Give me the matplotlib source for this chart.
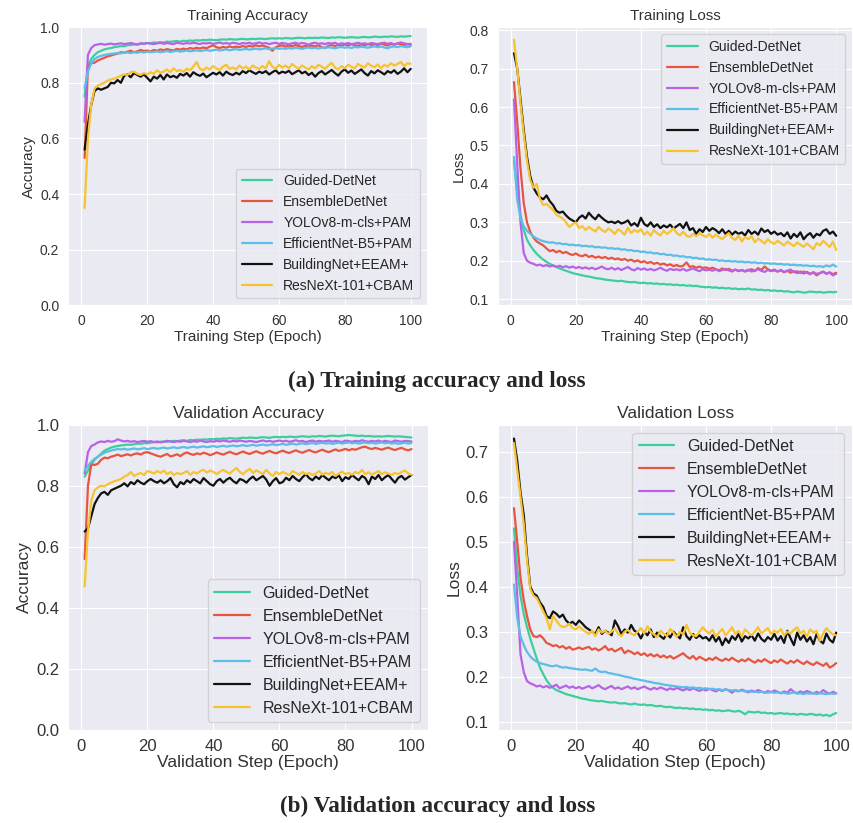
import matplotlib
matplotlib.use("Agg")
import matplotlib.pyplot as plt
import seaborn as sns
import numpy as np

sns.set_style("darkgrid")
plt.rcParams['font.family'] = ['Liberation Sans', 'DejaVu Sans']

epochs = list(range(1, 101))
labels = ["Guided-DetNet", "EnsembleDetNet", "YOLOv8-m-cls+PAM",
          "EfficientNet-B5+PAM", "BuildingNet+EEAM+", "ResNeXt-101+CBAM"]
colors = ["#3ccf9c", "#e8553f", "#b862e6", "#5cbde6", "#111111", "#f7c331"]

# ---------------- Training accuracy ----------------
ta_guided = [0.750, 0.860, 0.885, 0.900, 0.910, 0.915, 0.920, 0.923, 0.925, 0.928,
             0.930, 0.932, 0.931, 0.935, 0.936, 0.938, 0.937, 0.940, 0.941, 0.943,
             0.942, 0.945, 0.944, 0.946, 0.945, 0.948, 0.947, 0.949, 0.950, 0.948,
             0.951, 0.950, 0.952, 0.951, 0.953, 0.952, 0.954, 0.953, 0.955, 0.954,
             0.953, 0.955, 0.956, 0.955, 0.957, 0.956, 0.955, 0.957, 0.958, 0.956,
             0.957, 0.958, 0.957, 0.959, 0.958, 0.957, 0.959, 0.960, 0.959, 0.960,
             0.959, 0.961, 0.960, 0.959, 0.961, 0.962, 0.961, 0.960, 0.962, 0.961,
             0.962, 0.961, 0.963, 0.962, 0.961, 0.963, 0.962, 0.964, 0.963, 0.962,
             0.963, 0.964, 0.963, 0.962, 0.964, 0.965, 0.963, 0.964, 0.966, 0.965,
             0.964, 0.966, 0.965, 0.967, 0.966, 0.965, 0.967, 0.966, 0.967, 0.968]
ta_ensemble = [0.530, 0.860, 0.870, 0.872, 0.880, 0.885, 0.890, 0.895, 0.898, 0.902,
               0.905, 0.910, 0.908, 0.912, 0.915, 0.910, 0.913, 0.918, 0.914, 0.916,
               0.912, 0.918, 0.915, 0.920, 0.917, 0.921, 0.918, 0.916, 0.922, 0.919,
               0.923, 0.920, 0.925, 0.922, 0.926, 0.923, 0.927, 0.924, 0.930, 0.935,
               0.928, 0.925, 0.929, 0.926, 0.931, 0.927, 0.930, 0.928, 0.932, 0.929,
               0.933, 0.930, 0.935, 0.931, 0.934, 0.930, 0.926, 0.915, 0.928, 0.932,
               0.935, 0.930, 0.934, 0.931, 0.936, 0.932, 0.929, 0.933, 0.930, 0.934,
               0.931, 0.935, 0.928, 0.925, 0.933, 0.936, 0.932, 0.937, 0.933, 0.938,
               0.934, 0.939, 0.935, 0.933, 0.938, 0.934, 0.940, 0.936, 0.939, 0.935,
               0.941, 0.937, 0.934, 0.940, 0.936, 0.942, 0.938, 0.935, 0.939, 0.936]
ta_yolo = [0.660, 0.900, 0.925, 0.935, 0.938, 0.940, 0.937, 0.939, 0.941, 0.938,
           0.940, 0.942, 0.939, 0.941, 0.943, 0.940, 0.938, 0.942, 0.940, 0.943,
           0.941, 0.939, 0.942, 0.944, 0.940, 0.943, 0.941, 0.939, 0.944, 0.942,
           0.940, 0.943, 0.941, 0.944, 0.942, 0.939, 0.943, 0.941, 0.944, 0.940,
           0.942, 0.945, 0.941, 0.943, 0.940, 0.944, 0.942, 0.939, 0.943, 0.941,
           0.944, 0.940, 0.942, 0.945, 0.941, 0.943, 0.939, 0.942, 0.944, 0.940,
           0.943, 0.941, 0.938, 0.942, 0.944, 0.940, 0.943, 0.941, 0.937, 0.942,
           0.944, 0.940, 0.942, 0.939, 0.943, 0.941, 0.944, 0.938, 0.942, 0.940,
           0.943, 0.939, 0.941, 0.944, 0.940, 0.942, 0.938, 0.943, 0.941, 0.939,
           0.942, 0.944, 0.940, 0.943, 0.938, 0.941, 0.945, 0.942, 0.939, 0.940]
ta_efficient = [0.780, 0.840, 0.870, 0.885, 0.893, 0.897, 0.900, 0.902, 0.904, 0.905,
                0.907, 0.906, 0.908, 0.909, 0.907, 0.910, 0.908, 0.911, 0.909, 0.912,
                0.910, 0.911, 0.913, 0.910, 0.912, 0.914, 0.911, 0.913, 0.915, 0.912,
                0.914, 0.916, 0.913, 0.915, 0.917, 0.914, 0.916, 0.918, 0.915, 0.917,
                0.919, 0.916, 0.918, 0.920, 0.917, 0.919, 0.921, 0.918, 0.920, 0.922,
                0.919, 0.921, 0.923, 0.920, 0.922, 0.924, 0.921, 0.923, 0.925, 0.922,
                0.924, 0.922, 0.925, 0.923, 0.926, 0.924, 0.922, 0.925, 0.927, 0.924,
                0.926, 0.923, 0.927, 0.925, 0.928, 0.926, 0.924, 0.927, 0.929, 0.926,
                0.928, 0.925, 0.929, 0.927, 0.930, 0.928, 0.926, 0.929, 0.931, 0.928,
                0.930, 0.927, 0.924, 0.929, 0.931, 0.928, 0.932, 0.930, 0.928, 0.931]
ta_building = [0.560, 0.650, 0.720, 0.770, 0.780, 0.775, 0.780, 0.785, 0.800, 0.798,
               0.810, 0.800, 0.825, 0.830, 0.820, 0.835, 0.828, 0.822, 0.830, 0.818,
               0.805, 0.822, 0.815, 0.828, 0.812, 0.830, 0.820, 0.825, 0.818, 0.832,
               0.826, 0.835, 0.822, 0.838, 0.830, 0.825, 0.833, 0.820, 0.828, 0.836,
               0.830, 0.838, 0.826, 0.840, 0.832, 0.828, 0.836, 0.830, 0.842, 0.835,
               0.845, 0.838, 0.832, 0.840, 0.835, 0.842, 0.830, 0.838, 0.845, 0.833,
               0.840, 0.836, 0.843, 0.831, 0.838, 0.845, 0.834, 0.840, 0.828, 0.836,
               0.822, 0.835, 0.842, 0.830, 0.838, 0.846, 0.835, 0.826, 0.840, 0.848,
               0.836, 0.844, 0.832, 0.840, 0.848, 0.835, 0.826, 0.842, 0.834, 0.845,
               0.838, 0.830, 0.842, 0.836, 0.845, 0.832, 0.840, 0.852, 0.838, 0.850]
ta_resnext = [0.350, 0.600, 0.720, 0.780, 0.790, 0.795, 0.800, 0.808, 0.812, 0.815,
              0.820, 0.825, 0.830, 0.828, 0.838, 0.840, 0.832, 0.828, 0.835, 0.830,
              0.838, 0.832, 0.845, 0.836, 0.840, 0.848, 0.838, 0.852, 0.842, 0.846,
              0.840, 0.850, 0.845, 0.858, 0.875, 0.850, 0.845, 0.855, 0.848, 0.860,
              0.852, 0.846, 0.858, 0.865, 0.850, 0.855, 0.848, 0.862, 0.852, 0.858,
              0.848, 0.862, 0.855, 0.850, 0.860, 0.852, 0.878, 0.858, 0.850, 0.865,
              0.855, 0.862, 0.852, 0.868, 0.858, 0.850, 0.862, 0.855, 0.848, 0.860,
              0.852, 0.865, 0.858, 0.850, 0.862, 0.872, 0.855, 0.848, 0.860, 0.852,
              0.865, 0.858, 0.852, 0.868, 0.860, 0.855, 0.870, 0.862, 0.856, 0.866,
              0.852, 0.865, 0.858, 0.870, 0.862, 0.868, 0.875, 0.860, 0.870, 0.868]

# ---------------- Training loss ----------------
tl_guided = [0.460, 0.380, 0.320, 0.280, 0.255, 0.240, 0.228, 0.218, 0.210, 0.203,
             0.197, 0.192, 0.188, 0.184, 0.180, 0.177, 0.174, 0.171, 0.168, 0.166,
             0.164, 0.162, 0.160, 0.159, 0.157, 0.155, 0.154, 0.153, 0.151, 0.150,
             0.149, 0.148, 0.147, 0.148, 0.146, 0.145, 0.144, 0.145, 0.143, 0.142,
             0.143, 0.141, 0.142, 0.140, 0.141, 0.139, 0.140, 0.138, 0.139, 0.137,
             0.138, 0.136, 0.137, 0.135, 0.136, 0.134, 0.135, 0.133, 0.132, 0.131,
             0.132, 0.130, 0.131, 0.129, 0.130, 0.128, 0.129, 0.127, 0.128, 0.126,
             0.127, 0.126, 0.128, 0.125, 0.126, 0.124, 0.125, 0.123, 0.124, 0.122,
             0.123, 0.121, 0.122, 0.120, 0.121, 0.119, 0.118, 0.120, 0.119, 0.117,
             0.118, 0.120, 0.119, 0.118, 0.119, 0.117, 0.118, 0.119, 0.118, 0.119]
tl_ensemble = [0.665, 0.560, 0.440, 0.350, 0.300, 0.275, 0.260, 0.250, 0.245, 0.240,
               0.232, 0.225, 0.228, 0.222, 0.226, 0.220, 0.223, 0.218, 0.215, 0.219,
               0.214, 0.212, 0.216, 0.210, 0.213, 0.208, 0.211, 0.207, 0.210, 0.205,
               0.208, 0.204, 0.206, 0.202, 0.205, 0.200, 0.203, 0.198, 0.201, 0.196,
               0.199, 0.194, 0.197, 0.192, 0.195, 0.190, 0.193, 0.188, 0.191, 0.186,
               0.189, 0.185, 0.187, 0.196, 0.184, 0.186, 0.182, 0.185, 0.181, 0.183,
               0.179, 0.182, 0.178, 0.175, 0.180, 0.176, 0.179, 0.174, 0.177, 0.173,
               0.176, 0.172, 0.175, 0.178, 0.173, 0.181, 0.176, 0.185, 0.178, 0.174,
               0.177, 0.172, 0.175, 0.170, 0.174, 0.169, 0.173, 0.168, 0.172, 0.167,
               0.171, 0.166, 0.170, 0.162, 0.168, 0.172, 0.166, 0.170, 0.165, 0.169]
tl_yolo = [0.620, 0.450, 0.300, 0.220, 0.200, 0.195, 0.192, 0.188, 0.190, 0.186,
           0.189, 0.185, 0.188, 0.184, 0.187, 0.183, 0.186, 0.182, 0.185, 0.181,
           0.184, 0.180, 0.183, 0.179, 0.182, 0.178, 0.181, 0.185, 0.180, 0.178,
           0.182, 0.177, 0.181, 0.176, 0.180, 0.184, 0.178, 0.175, 0.181, 0.177,
           0.180, 0.176, 0.179, 0.175, 0.178, 0.182, 0.177, 0.174, 0.179, 0.176,
           0.178, 0.175, 0.179, 0.174, 0.177, 0.180, 0.176, 0.173, 0.178, 0.175,
           0.177, 0.174, 0.178, 0.173, 0.176, 0.179, 0.175, 0.172, 0.177, 0.174,
           0.176, 0.173, 0.177, 0.172, 0.175, 0.178, 0.174, 0.171, 0.176, 0.173,
           0.175, 0.172, 0.176, 0.171, 0.174, 0.177, 0.170, 0.173, 0.168, 0.172,
           0.169, 0.165, 0.170, 0.166, 0.168, 0.171, 0.167, 0.169, 0.162, 0.166]
tl_efficient = [0.470, 0.360, 0.310, 0.290, 0.278, 0.270, 0.263, 0.258, 0.254, 0.251,
                0.249, 0.247, 0.248, 0.245, 0.246, 0.243, 0.244, 0.241, 0.242, 0.240,
                0.241, 0.238, 0.239, 0.237, 0.238, 0.235, 0.236, 0.234, 0.235, 0.232,
                0.233, 0.231, 0.232, 0.229, 0.230, 0.227, 0.228, 0.225, 0.226, 0.223,
                0.224, 0.221, 0.222, 0.219, 0.220, 0.217, 0.218, 0.215, 0.216, 0.213,
                0.214, 0.211, 0.212, 0.209, 0.210, 0.207, 0.208, 0.205, 0.206, 0.203,
                0.204, 0.202, 0.203, 0.200, 0.201, 0.199, 0.200, 0.198, 0.199, 0.197,
                0.198, 0.196, 0.197, 0.195, 0.196, 0.194, 0.195, 0.193, 0.194, 0.192,
                0.193, 0.191, 0.192, 0.190, 0.191, 0.189, 0.190, 0.188, 0.189, 0.187,
                0.188, 0.186, 0.187, 0.185, 0.186, 0.184, 0.188, 0.185, 0.190, 0.185]
tl_building = [0.740, 0.700, 0.620, 0.540, 0.470, 0.420, 0.390, 0.375, 0.365, 0.360,
               0.370, 0.355, 0.345, 0.330, 0.325, 0.328, 0.318, 0.310, 0.305, 0.300,
               0.312, 0.318, 0.310, 0.325, 0.315, 0.308, 0.320, 0.312, 0.305, 0.300,
               0.302, 0.298, 0.303, 0.297, 0.300, 0.305, 0.292, 0.298, 0.290, 0.312,
               0.296, 0.290, 0.300, 0.288, 0.295, 0.285, 0.292, 0.287, 0.294, 0.284,
               0.290, 0.296, 0.285, 0.300, 0.280, 0.285, 0.270, 0.282, 0.275, 0.288,
               0.278, 0.285, 0.280, 0.272, 0.282, 0.270, 0.278, 0.268, 0.276, 0.270,
               0.274, 0.266, 0.280, 0.270, 0.276, 0.268, 0.284, 0.275, 0.280, 0.270,
               0.276, 0.268, 0.272, 0.264, 0.274, 0.258, 0.270, 0.262, 0.274, 0.256,
               0.266, 0.272, 0.260, 0.270, 0.266, 0.278, 0.282, 0.270, 0.276, 0.265]
tl_resnext = [0.775, 0.700, 0.610, 0.530, 0.460, 0.410, 0.390, 0.400, 0.360, 0.345,
              0.348, 0.340, 0.332, 0.320, 0.315, 0.310, 0.300, 0.288, 0.295, 0.300,
              0.285, 0.290, 0.280, 0.288, 0.282, 0.276, 0.288, 0.280, 0.275, 0.284,
              0.278, 0.270, 0.282, 0.276, 0.268, 0.286, 0.272, 0.280, 0.275, 0.282,
              0.268, 0.276, 0.265, 0.280, 0.272, 0.266, 0.278, 0.270, 0.276, 0.285,
              0.272, 0.266, 0.276, 0.265, 0.262, 0.270, 0.264, 0.272, 0.266, 0.262,
              0.270, 0.260, 0.268, 0.262, 0.256, 0.265, 0.272, 0.260, 0.254, 0.266,
              0.250, 0.262, 0.256, 0.264, 0.248, 0.258, 0.252, 0.245, 0.256, 0.248,
              0.244, 0.252, 0.246, 0.240, 0.250, 0.244, 0.238, 0.248, 0.242, 0.236,
              0.245, 0.238, 0.230, 0.246, 0.240, 0.252, 0.244, 0.236, 0.250, 0.228]

# ---------------- Validation accuracy ----------------
va_guided = [0.830, 0.850, 0.870, 0.885, 0.895, 0.905, 0.915, 0.920, 0.925, 0.928,
             0.930, 0.932, 0.933, 0.935, 0.934, 0.936, 0.938, 0.937, 0.940, 0.939,
             0.941, 0.943, 0.942, 0.944, 0.945, 0.944, 0.946, 0.947, 0.946, 0.948,
             0.949, 0.947, 0.950, 0.949, 0.951, 0.950, 0.952, 0.951, 0.953, 0.952,
             0.954, 0.953, 0.955, 0.954, 0.956, 0.955, 0.954, 0.956, 0.957, 0.956,
             0.958, 0.957, 0.956, 0.958, 0.959, 0.958, 0.957, 0.959, 0.960, 0.959,
             0.960, 0.959, 0.961, 0.960, 0.959, 0.961, 0.962, 0.961, 0.960, 0.962,
             0.961, 0.963, 0.962, 0.961, 0.963, 0.964, 0.963, 0.962, 0.964, 0.965,
             0.966, 0.965, 0.964, 0.963, 0.964, 0.962, 0.963, 0.962, 0.961, 0.962,
             0.961, 0.962, 0.963, 0.962, 0.961, 0.962, 0.961, 0.960, 0.959, 0.958]
va_ensemble = [0.560, 0.800, 0.870, 0.868, 0.872, 0.885, 0.892, 0.890, 0.895, 0.898,
               0.902, 0.897, 0.900, 0.903, 0.899, 0.904, 0.906, 0.902, 0.908, 0.910,
               0.906, 0.902, 0.898, 0.895, 0.900, 0.904, 0.896, 0.899, 0.903, 0.897,
               0.905, 0.909, 0.904, 0.901, 0.906, 0.903, 0.908, 0.905, 0.900, 0.904,
               0.909, 0.905, 0.902, 0.907, 0.911, 0.906, 0.903, 0.908, 0.912, 0.907,
               0.904, 0.909, 0.913, 0.908, 0.905, 0.910, 0.914, 0.909, 0.906, 0.911,
               0.915, 0.910, 0.907, 0.912, 0.916, 0.911, 0.908, 0.913, 0.917, 0.912,
               0.909, 0.914, 0.918, 0.913, 0.910, 0.915, 0.919, 0.914, 0.917, 0.921,
               0.916, 0.920, 0.918, 0.922, 0.926, 0.928, 0.923, 0.920, 0.924, 0.921,
               0.918, 0.922, 0.925, 0.920, 0.917, 0.921, 0.924, 0.919, 0.916, 0.920]
va_yolo = [0.840, 0.910, 0.930, 0.935, 0.942, 0.945, 0.943, 0.947, 0.944, 0.946,
           0.952, 0.948, 0.945, 0.947, 0.944, 0.946, 0.943, 0.945, 0.947, 0.944,
           0.946, 0.943, 0.945, 0.942, 0.944, 0.947, 0.945, 0.943, 0.946, 0.944,
           0.947, 0.945, 0.943, 0.946, 0.944, 0.948, 0.945, 0.943, 0.946, 0.944,
           0.947, 0.945, 0.948, 0.946, 0.944, 0.947, 0.945, 0.948, 0.946, 0.944,
           0.947, 0.945, 0.943, 0.946, 0.948, 0.945, 0.947, 0.944, 0.946, 0.948,
           0.945, 0.947, 0.944, 0.946, 0.949, 0.945, 0.947, 0.943, 0.946, 0.948,
           0.944, 0.947, 0.945, 0.946, 0.948, 0.944, 0.947, 0.945, 0.943, 0.948,
           0.946, 0.944, 0.947, 0.945, 0.949, 0.946, 0.944, 0.947, 0.945, 0.948,
           0.944, 0.947, 0.945, 0.943, 0.948, 0.946, 0.944, 0.947, 0.946, 0.945]
va_efficient = [0.850, 0.865, 0.878, 0.888, 0.895, 0.902, 0.908, 0.912, 0.915, 0.918,
                0.920, 0.919, 0.921, 0.918, 0.920, 0.922, 0.919, 0.921, 0.923, 0.920,
                0.922, 0.924, 0.921, 0.923, 0.925, 0.922, 0.924, 0.926, 0.923, 0.925,
                0.927, 0.924, 0.926, 0.928, 0.925, 0.927, 0.929, 0.926, 0.928, 0.930,
                0.927, 0.929, 0.931, 0.928, 0.930, 0.932, 0.929, 0.931, 0.933, 0.930,
                0.932, 0.934, 0.931, 0.933, 0.935, 0.932, 0.934, 0.936, 0.933, 0.935,
                0.937, 0.934, 0.936, 0.938, 0.935, 0.937, 0.939, 0.936, 0.938, 0.940,
                0.937, 0.939, 0.941, 0.938, 0.940, 0.937, 0.939, 0.941, 0.938, 0.940,
                0.942, 0.939, 0.941, 0.938, 0.940, 0.942, 0.939, 0.941, 0.938, 0.940,
                0.942, 0.939, 0.941, 0.938, 0.940, 0.937, 0.939, 0.941, 0.938, 0.940]
va_building = [0.650, 0.660, 0.700, 0.740, 0.760, 0.775, 0.780, 0.770, 0.785, 0.790,
               0.795, 0.800, 0.808, 0.798, 0.812, 0.805, 0.818, 0.810, 0.805, 0.815,
               0.822, 0.815, 0.810, 0.818, 0.808, 0.815, 0.825, 0.805, 0.795, 0.812,
               0.805, 0.818, 0.810, 0.822, 0.815, 0.808, 0.825, 0.815, 0.805, 0.800,
               0.815, 0.822, 0.810, 0.820, 0.826, 0.815, 0.808, 0.822, 0.818, 0.810,
               0.822, 0.830, 0.818, 0.825, 0.832, 0.820, 0.800, 0.815, 0.825, 0.808,
               0.812, 0.826, 0.818, 0.832, 0.822, 0.815, 0.828, 0.838, 0.825, 0.818,
               0.830, 0.822, 0.835, 0.826, 0.818, 0.830, 0.825, 0.834, 0.815, 0.828,
               0.822, 0.835, 0.826, 0.818, 0.832, 0.825, 0.805, 0.830, 0.822, 0.835,
               0.818, 0.828, 0.835, 0.822, 0.810, 0.826, 0.832, 0.820, 0.828, 0.835]
va_resnext = [0.470, 0.650, 0.750, 0.785, 0.795, 0.800, 0.798, 0.805, 0.810, 0.815,
              0.818, 0.822, 0.830, 0.835, 0.845, 0.832, 0.838, 0.842, 0.835, 0.848,
              0.845, 0.840, 0.848, 0.842, 0.850, 0.838, 0.845, 0.835, 0.842, 0.838,
              0.842, 0.848, 0.836, 0.845, 0.840, 0.848, 0.852, 0.843, 0.850, 0.845,
              0.838, 0.846, 0.852, 0.845, 0.840, 0.850, 0.858, 0.845, 0.838, 0.848,
              0.855, 0.842, 0.850, 0.845, 0.838, 0.852, 0.840, 0.832, 0.845, 0.838,
              0.845, 0.840, 0.835, 0.848, 0.842, 0.836, 0.845, 0.838, 0.842, 0.835,
              0.840, 0.848, 0.836, 0.842, 0.838, 0.845, 0.832, 0.840, 0.846, 0.838,
              0.842, 0.836, 0.845, 0.840, 0.852, 0.838, 0.844, 0.836, 0.842, 0.848,
              0.838, 0.844, 0.840, 0.835, 0.842, 0.838, 0.845, 0.850, 0.840, 0.836]

# ---------------- Validation loss ----------------
vl_guided = [0.530, 0.440, 0.380, 0.340, 0.310, 0.285, 0.262, 0.240, 0.220, 0.205,
             0.192, 0.182, 0.175, 0.170, 0.167, 0.164, 0.161, 0.159, 0.157, 0.155,
             0.153, 0.151, 0.150, 0.148, 0.147, 0.146, 0.145, 0.146, 0.144, 0.143,
             0.142, 0.143, 0.141, 0.140, 0.141, 0.139, 0.138, 0.140, 0.138, 0.137,
             0.138, 0.136, 0.137, 0.135, 0.134, 0.135, 0.133, 0.132, 0.133, 0.131,
             0.130, 0.131, 0.129, 0.130, 0.128, 0.129, 0.127, 0.128, 0.126, 0.127,
             0.125, 0.126, 0.124, 0.125, 0.123, 0.124, 0.125, 0.123, 0.122, 0.124,
             0.121, 0.116, 0.122, 0.121, 0.120, 0.122, 0.119, 0.120, 0.118, 0.119,
             0.117, 0.118, 0.119, 0.117, 0.118, 0.116, 0.117, 0.115, 0.117, 0.116,
             0.115, 0.117, 0.116, 0.114, 0.116, 0.113, 0.115, 0.112, 0.116, 0.119]
vl_ensemble = [0.575, 0.500, 0.420, 0.370, 0.335, 0.305, 0.290, 0.288, 0.292, 0.285,
               0.275, 0.272, 0.268, 0.270, 0.265, 0.268, 0.262, 0.266, 0.260, 0.262,
               0.265, 0.261, 0.264, 0.266, 0.260, 0.263, 0.258, 0.262, 0.268, 0.259,
               0.262, 0.256, 0.260, 0.264, 0.252, 0.258, 0.255, 0.250, 0.254, 0.248,
               0.252, 0.246, 0.250, 0.245, 0.249, 0.243, 0.247, 0.242, 0.246, 0.240,
               0.244, 0.248, 0.252, 0.245, 0.240, 0.246, 0.238, 0.244, 0.240, 0.236,
               0.241, 0.237, 0.243, 0.238, 0.235, 0.240, 0.236, 0.242, 0.237, 0.233,
               0.238, 0.234, 0.240, 0.235, 0.231, 0.237, 0.233, 0.239, 0.234, 0.230,
               0.236, 0.232, 0.238, 0.233, 0.229, 0.235, 0.231, 0.237, 0.232, 0.228,
               0.234, 0.229, 0.226, 0.232, 0.228, 0.224, 0.230, 0.220, 0.224, 0.230]
vl_yolo = [0.500, 0.380, 0.250, 0.210, 0.190, 0.185, 0.182, 0.178, 0.180, 0.176,
           0.179, 0.175, 0.178, 0.182, 0.174, 0.177, 0.180, 0.175, 0.178, 0.174,
           0.177, 0.173, 0.176, 0.179, 0.174, 0.177, 0.181, 0.175, 0.172, 0.176,
           0.179, 0.173, 0.176, 0.172, 0.175, 0.178, 0.173, 0.176, 0.172, 0.175,
           0.178, 0.174, 0.171, 0.175, 0.172, 0.176, 0.173, 0.170, 0.174, 0.171,
           0.175, 0.172, 0.169, 0.173, 0.170, 0.174, 0.171, 0.168, 0.172, 0.169,
           0.173, 0.170, 0.167, 0.171, 0.168, 0.172, 0.169, 0.164, 0.170, 0.167,
           0.171, 0.168, 0.165, 0.169, 0.166, 0.170, 0.167, 0.164, 0.168, 0.165,
           0.169, 0.166, 0.163, 0.167, 0.164, 0.172, 0.166, 0.163, 0.167, 0.164,
           0.168, 0.165, 0.162, 0.166, 0.163, 0.170, 0.165, 0.162, 0.166, 0.163]
vl_efficient = [0.405, 0.330, 0.290, 0.270, 0.255, 0.245, 0.238, 0.233, 0.230, 0.228,
                0.226, 0.224, 0.223, 0.225, 0.222, 0.220, 0.221, 0.219, 0.218, 0.217,
                0.216, 0.215, 0.216, 0.214, 0.213, 0.218, 0.212, 0.210, 0.211, 0.208,
                0.207, 0.205, 0.204, 0.202, 0.200, 0.199, 0.197, 0.195, 0.194, 0.192,
                0.191, 0.189, 0.188, 0.186, 0.185, 0.184, 0.182, 0.181, 0.180, 0.179,
                0.178, 0.177, 0.176, 0.177, 0.175, 0.176, 0.174, 0.175, 0.173, 0.174,
                0.172, 0.173, 0.171, 0.172, 0.170, 0.171, 0.170, 0.169, 0.170, 0.168,
                0.169, 0.167, 0.168, 0.166, 0.167, 0.165, 0.166, 0.165, 0.164, 0.166,
                0.164, 0.165, 0.163, 0.164, 0.162, 0.163, 0.165, 0.162, 0.163, 0.161,
                0.163, 0.162, 0.164, 0.161, 0.163, 0.162, 0.161, 0.163, 0.162, 0.162]
vl_building = [0.730, 0.680, 0.610, 0.560, 0.470, 0.400, 0.385, 0.380, 0.365, 0.355,
               0.335, 0.330, 0.345, 0.340, 0.332, 0.338, 0.325, 0.318, 0.322, 0.315,
               0.325, 0.318, 0.310, 0.305, 0.300, 0.295, 0.310, 0.295, 0.302, 0.298,
               0.292, 0.325, 0.312, 0.295, 0.305, 0.298, 0.315, 0.302, 0.298, 0.285,
               0.300, 0.292, 0.305, 0.288, 0.298, 0.290, 0.284, 0.296, 0.287, 0.300,
               0.292, 0.285, 0.310, 0.290, 0.282, 0.295, 0.286, 0.292, 0.285, 0.288,
               0.280, 0.292, 0.278, 0.288, 0.270, 0.285, 0.275, 0.290, 0.282, 0.295,
               0.278, 0.290, 0.285, 0.292, 0.280, 0.296, 0.284, 0.278, 0.288, 0.282,
               0.295, 0.280, 0.290, 0.275, 0.302, 0.285, 0.270, 0.298, 0.282, 0.292,
               0.278, 0.288, 0.272, 0.295, 0.280, 0.274, 0.296, 0.282, 0.276, 0.298]
vl_resnext = [0.720, 0.660, 0.600, 0.540, 0.460, 0.395, 0.380, 0.375, 0.360, 0.345,
              0.330, 0.305, 0.335, 0.325, 0.315, 0.310, 0.312, 0.318, 0.308, 0.305,
              0.312, 0.305, 0.300, 0.295, 0.302, 0.290, 0.305, 0.298, 0.302, 0.295,
              0.300, 0.308, 0.295, 0.290, 0.300, 0.304, 0.296, 0.292, 0.300, 0.308,
              0.296, 0.312, 0.300, 0.294, 0.288, 0.302, 0.296, 0.290, 0.306, 0.298,
              0.288, 0.300, 0.294, 0.315, 0.298, 0.292, 0.290, 0.300, 0.310, 0.302,
              0.296, 0.304, 0.290, 0.298, 0.306, 0.292, 0.300, 0.310, 0.295, 0.302,
              0.290, 0.305, 0.298, 0.292, 0.300, 0.310, 0.296, 0.302, 0.308, 0.295,
              0.302, 0.298, 0.306, 0.292, 0.300, 0.296, 0.304, 0.310, 0.296, 0.302,
              0.290, 0.305, 0.298, 0.302, 0.280, 0.296, 0.308, 0.300, 0.294, 0.292]

fig = plt.figure(figsize=(8.54, 8.23), dpi=100)
fig.patch.set_facecolor("white")

# (rect, title, xlabel, ylabel, series, legend loc, ylim, label size, tick size, legend size)
panels = [
    ([0.080, 0.629, 0.420, 0.338], "Training Accuracy", "Training Step (Epoch)", "Accuracy",
     [ta_guided, ta_ensemble, ta_yolo, ta_efficient, ta_building, ta_resnext], "lower right", (0, 1.0), 11, 10, 10),
    ([0.583, 0.629, 0.415, 0.338], "Training Loss", "Training Step (Epoch)", "Loss",
     [tl_guided, tl_ensemble, tl_yolo, tl_efficient, tl_building, tl_resnext], "upper right", None, 11, 10, 10),
    ([0.080, 0.113, 0.421, 0.371], "Validation Accuracy", "Validation Step (Epoch)", "Accuracy",
     [va_guided, va_ensemble, va_yolo, va_efficient, va_building, va_resnext], "lower right", (0, 1.0), 12.5, 12, 11.5),
    ([0.583, 0.113, 0.415, 0.371], "Validation Loss", "Validation Step (Epoch)", "Loss",
     [vl_guided, vl_ensemble, vl_yolo, vl_efficient, vl_building, vl_resnext], "upper right", None, 12.5, 12, 11.5),
]

for rect, title, xlabel, ylabel, series, loc, ylim, fs, ts, ls in panels:
    ax = fig.add_axes(rect)
    for vals, lab, col in zip(series, labels, colors):
        ax.plot(epochs, vals, color=col, lw=1.6, label=lab)
    if ylim is not None:
        ax.set_ylim(*ylim)
    ax.set_xticks([0, 20, 40, 60, 80, 100])
    ax.set_title(title, fontsize=fs, color="#333333", pad=5)
    ax.set_xlabel(xlabel, fontsize=fs, color="#333333", labelpad=1)
    ax.set_ylabel(ylabel, fontsize=fs, color="#333333", labelpad=3)
    ax.tick_params(labelsize=ts, colors="#333333", pad=3)
    ax.legend(loc=loc, fontsize=ls, handlelength=2.2, labelspacing=0.5)

fig.text(0.512, 0.536, "(a) Training accuracy and loss", ha="center", va="center",
         fontsize=16.7, fontweight="bold", family=["Liberation Serif", "DejaVu Serif"])
fig.text(0.512, 0.020, "(b) Validation accuracy and loss", ha="center", va="center",
         fontsize=16.7, fontweight="bold", family=["Liberation Serif", "DejaVu Serif"])

fig.savefig("out.png", dpi=100)
